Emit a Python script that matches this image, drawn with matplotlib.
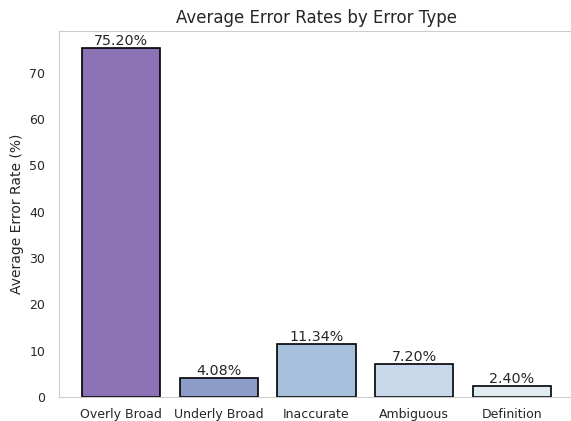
import matplotlib
matplotlib.use("Agg")
import matplotlib.pyplot as plt
import seaborn as sns

error_types = ["Overly Broad", "Underly Broad", "Inaccurate", "Ambiguous", "Definition"]
error_rates = [75.20, 4.08, 11.34, 7.20, 2.40]
bar_colors = ["#8c73b5", "#8c9cc9", "#a6bfdb", "#c6d8e9", "#e0ecf2"]

sns.set_style("whitegrid")
plt.rcParams["font.family"] = ["DejaVu Sans"]

fig = plt.figure(figsize=(5.71, 4.21), dpi=100)
ax = fig.add_axes([59 / 571, 24 / 421, 515 / 571, 366 / 421])

bars = ax.bar(error_types, error_rates, color=bar_colors, edgecolor="black", linewidth=1.2, width=0.8)
for bar, val in zip(bars, error_rates):
    ax.annotate(f"{val:.2f}%", (bar.get_x() + bar.get_width() / 2, bar.get_height()),
                ha="center", va="bottom", fontsize=10.3, color="#262626")

ax.grid(False)
ax.set_title("Average Error Rates by Error Type", fontsize=12, color="#262626")
ax.set_ylabel("Average Error Rate (%)", fontsize=10, color="#262626")
ax.tick_params(axis="both", labelsize=9, colors="#262626", length=0)
ax.tick_params(axis="x", pad=8)
ax.tick_params(axis="y", pad=10)
for s in ax.spines.values():
    s.set_color("#cccccc")

fig.savefig("out.png", dpi=100)
